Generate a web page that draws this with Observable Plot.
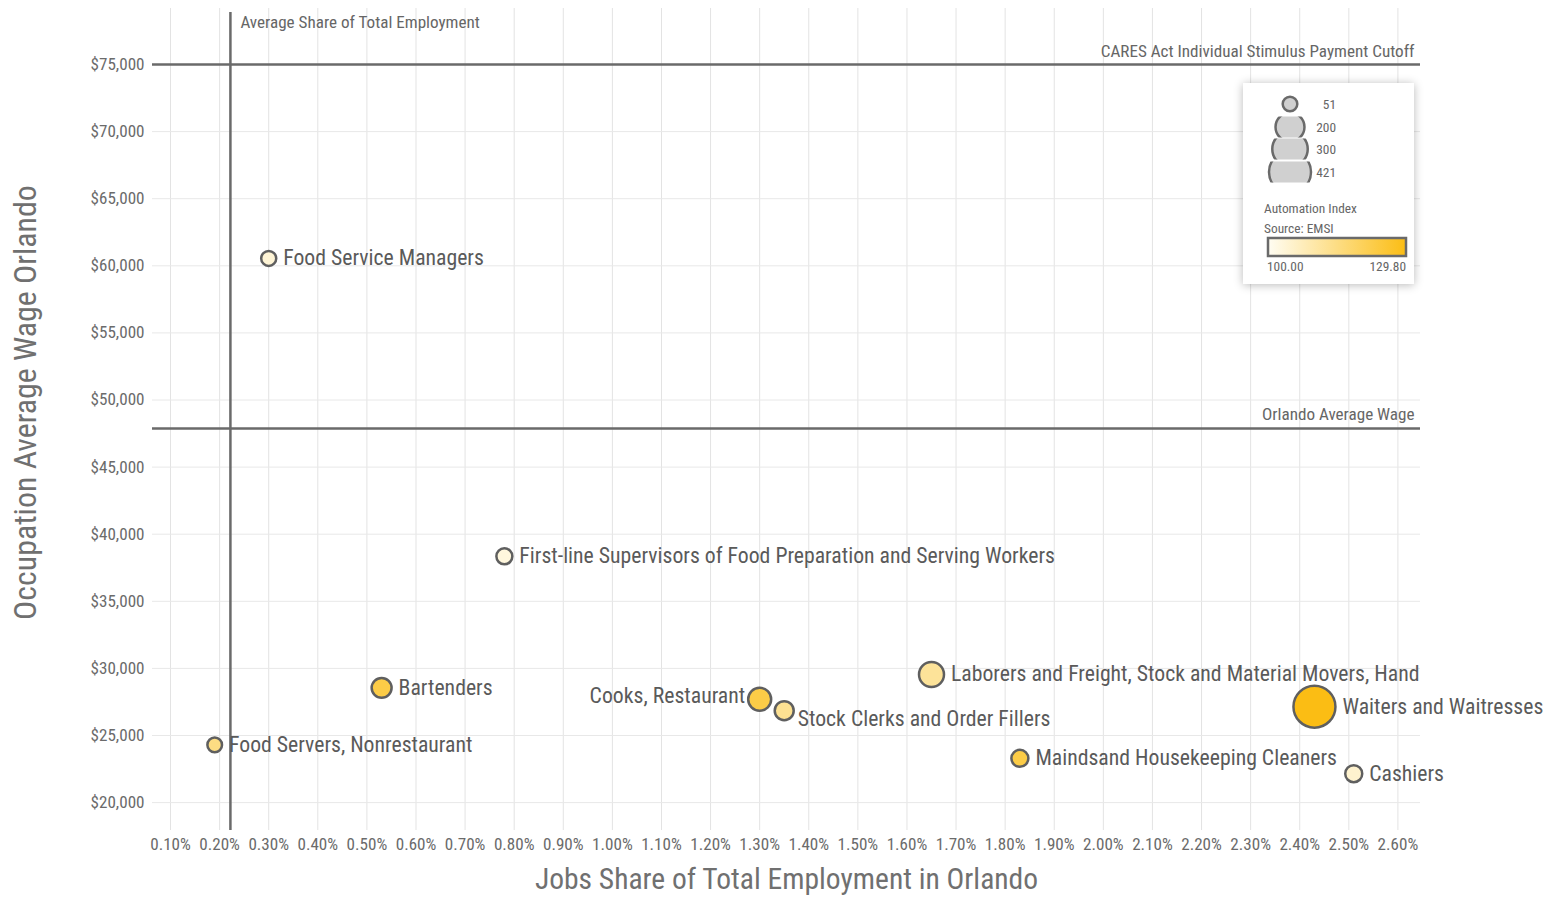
<!DOCTYPE html>
<html><head><meta charset="utf-8">
<script src="https://cdn.jsdelivr.net/npm/d3@7"></script>
<script src="https://cdn.jsdelivr.net/npm/@observablehq/plot@0.6"></script>
<style>
body{margin:0;background:#fff;}
#wrap{position:relative;width:1560px;height:907px;color:#666;}
#legend{position:absolute;left:1243px;top:83px;width:171px;height:201px;background:#fff;box-shadow:0 1px 9px rgba(0,0,0,0.28);}
#legend svg{position:absolute;left:0;top:0;}
</style>
</head><body>
<div id="wrap"><div id="chart"></div><div id="legend"></div></div>
<script>
// ---- data ----
const occupations = ["Food Service Managers","First-line Supervisors of Food Preparation and Serving Workers","Bartenders","Food Servers, Nonrestaurant","Cooks, Restaurant","Stock Clerks and Order Fillers","Laborers and Freight, Stock and Material Movers, Hand","Waiters and Waitresses","Maindsand Housekeeping Cleaners","Cashiers"];
const jobShare = [0.30, 0.78, 0.53, 0.19, 1.30, 1.35, 1.65, 2.43, 1.83, 2.51];
const avgWage = [60550, 38350, 28550, 24300, 27700, 26850, 29550, 27150, 23300, 22150];
const bubbleSize = [54, 61, 95, 51, 126, 86, 149, 421, 69, 69];
const automationIndex = [104, 103, 123, 115, 123, 113, 112, 129.8, 123, 105];

const avgShareTotal = 0.222;
const orlandoAvgWage = 47880;
const caresCutoff = 75000;

const xTicks = d3.range(1, 27).map(i => i / 10);
const yTicks = d3.range(20000, 75001, 5000);
const sizeLegendValues = [51, 200, 300, 421];
const colorDomain = [100, 129.8];
const colorRange = ["#fffdf3", "#fbbd14"];

const data = occupations.map((name, i) => ({name, share: jobShare[i], wage: avgWage[i], size: bubbleSize[i], auto: automationIndex[i]}));

// ---- font selection and fitting ----
const cvs = document.createElement("canvas").getContext("2d");
const probe = "abcdefghijklmnopqrstuvwxyzWM0123456789";
function installed(f) {
  cvs.font = `100px "${f}", monospace`; const a = cvs.measureText(probe).width;
  cvs.font = `100px monospace`; const b = cvs.measureText(probe).width;
  cvs.font = `100px "${f}", serif`; const c = cvs.measureText(probe).width;
  cvs.font = `100px serif`; const d = cvs.measureText(probe).width;
  return a !== b || c !== d;
}
const candidates = ["Roboto Condensed", "Liberation Sans Narrow", "Arial Narrow", "Open Sans Condensed", "Noto Sans Condensed", "DejaVu Sans Condensed", "Roboto"];
const chosen = candidates.find(installed) || "DejaVu Sans";
const font = `"${chosen}", sans-serif`;
function fit(text, width) { cvs.font = `100px ${font}`; return 100 * width / cvs.measureText(text).width; }
const labelSize = fit("Waiters and Waitresses", 201);
const tickSize = fit("$75,000", 54);
const titleSize = fit("Jobs Share of Total Employment in Orlando", 504);
const yTitleSize = fit("Occupation Average Wage Orlando", 435);
const annoSize = fit("CARES Act Individual Stimulus Payment Cutoff", 314);
const legendSize = fit("Automation Index", 93);

const rMax = 21;
const rScale = d3.scaleSqrt([0, 421], [0, rMax]);

const leftLabels = new Set(["Cooks, Restaurant"]);
const nudgeDown = {"Stock Clerks and Order Fillers": 8, "Cooks, Restaurant": -3};

const labelMarks = data.map(d => {
  const r = rScale(d.size);
  const left = leftLabels.has(d.name);
  return Plot.text([d], {
    x: "share", y: "wage", text: "name",
    textAnchor: left ? "end" : "start",
    dx: left ? -(r + 3) : (d.name === "Stock Clerks and Order Fillers" ? r + 4 : r + 7),
    dy: nudgeDown[d.name] || 0,
    fontSize: labelSize, fill: "#5a5a5a"
  });
});

const chart = Plot.plot({
  width: 1560, height: 907,
  marginLeft: 152, marginRight: 140, marginTop: 8, marginBottom: 77,
  style: {fontFamily: font, fontSize: tickSize + "px", color: "#6b6b6b", background: "transparent"},
  x: {domain: [0.0633, 2.646], ticks: xTicks, tickFormat: d => d.toFixed(2) + "%", tickSize: 0, tickPadding: 7, label: null},
  y: {domain: [17921, 79173], ticks: yTicks, tickFormat: d => "$" + d3.format(",")(d), tickSize: 0, tickPadding: 8, label: null},
  r: {type: "sqrt", domain: [0, 421], range: [0, rMax]},
  color: {type: "linear", domain: colorDomain, range: colorRange},
  marks: [
    Plot.ruleX(xTicks, {stroke: "#e3e3e3", strokeWidth: 1}),
    Plot.ruleY(yTicks, {stroke: "#e8e8e8", strokeWidth: 1}),
    Plot.ruleY([caresCutoff, orlandoAvgWage], {stroke: "#6a6a6a", strokeWidth: 2.5}),
    Plot.ruleX([avgShareTotal], {stroke: "#6a6a6a", strokeWidth: 2.5, insetTop: 4}),
    Plot.text(["Average Share of Total Employment"], {x: [avgShareTotal], frameAnchor: "top", textAnchor: "start", dx: 10, dy: 7, fontSize: annoSize, fill: "#666"}),
    Plot.text(["CARES Act Individual Stimulus Payment Cutoff"], {y: [caresCutoff], frameAnchor: "right", textAnchor: "end", dx: -6, dy: -13, fontSize: annoSize, fill: "#666"}),
    Plot.text(["Orlando Average Wage"], {y: [orlandoAvgWage], frameAnchor: "right", textAnchor: "end", dx: -6, dy: -14, fontSize: annoSize, fill: "#666"}),
    Plot.dot(data, {x: "share", y: "wage", r: "size", fill: "auto", stroke: "#5f5f5f", strokeWidth: 2.5, sort: {channel: "r", reverse: true}}),
    ...labelMarks,
    Plot.text(["Jobs Share of Total Employment in Orlando"], {frameAnchor: "bottom", dy: 58, fontSize: titleSize, fill: "#707070"}),
    Plot.text(["Occupation Average Wage Orlando"], {frameAnchor: "left", textAnchor: "middle", rotate: -90, dx: -127, dy: -17, fontSize: yTitleSize, fill: "#707070"})
  ]
});
document.getElementById("chart").appendChild(chart);

// ---- legend ----
const lg = d3.select("#legend").append("svg").attr("width", 171).attr("height", 201)
  .style("font-family", font).style("font-size", legendSize + "px");
const rowY = [21, 44, 66, 89];
const defs = lg.append("defs");
sizeLegendValues.forEach((v, i) => {
  defs.append("clipPath").attr("id", "clip" + i).append("rect")
    .attr("x", 0).attr("y", rowY[i] - 10.5).attr("width", 171).attr("height", 21);
  lg.append("circle").attr("cx", 47).attr("cy", rowY[i]).attr("r", rScale(v))
    .attr("fill", "#d0d0d0").attr("stroke", "#6a6a6a").attr("stroke-width", 2.5)
    .attr("clip-path", `url(#clip${i})`);
  lg.append("text").attr("x", 93).attr("y", rowY[i]).attr("dy", "0.35em")
    .attr("text-anchor", "end").attr("fill", "#666").text(v);
});
lg.append("text").attr("x", 21).attr("y", 125).attr("dy", "0.35em").attr("fill", "#666").text("Automation Index");
lg.append("text").attr("x", 21).attr("y", 145).attr("dy", "0.35em").attr("fill", "#666").text("Source: EMSI");
const grad = defs.append("linearGradient").attr("id", "autoGrad");
grad.append("stop").attr("offset", "0%").attr("stop-color", colorRange[0]);
grad.append("stop").attr("offset", "100%").attr("stop-color", colorRange[1]);
lg.append("rect").attr("x", 25).attr("y", 155).attr("width", 138).attr("height", 18)
  .attr("fill", "url(#autoGrad)").attr("stroke", "#6a6a6a").attr("stroke-width", 2.5);
lg.append("text").attr("x", 24).attr("y", 183).attr("dy", "0.35em").attr("fill", "#666").text(colorDomain[0].toFixed(2));
lg.append("text").attr("x", 163).attr("y", 183).attr("dy", "0.35em").attr("text-anchor", "end").attr("fill", "#666").text(colorDomain[1].toFixed(2));
</script>
</body></html>
